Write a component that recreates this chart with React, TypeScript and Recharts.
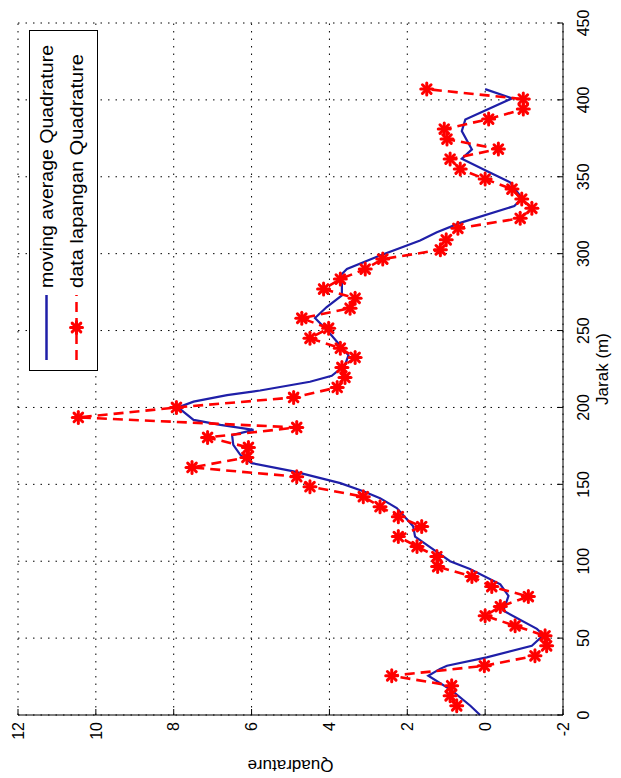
import React from 'react';
import { CartesianGrid, Line, LineChart, XAxis, YAxis } from 'recharts';

// data lapangan (field data)
const jarakLapangan = [6, 12.5, 19, 25.5, 32, 38.5, 45, 51.5, 58, 64.5, 70.5, 77, 83.5, 90, 96.5, 103, 109.5, 116, 122.5, 129, 135.5, 142, 148.5, 155, 161, 167.5, 174, 180.5, 187, 193.5, 200, 206.5, 213, 219.5, 226, 232.5, 238.5, 245, 251.5, 258, 264.5, 271, 277, 283.5, 290, 296.5, 302.5, 309, 316.5, 323, 329.5, 335.5, 342, 348.5, 355, 361.5, 368, 374.5, 381, 387.5, 394, 400.5, 407];
const quadLapangan = [0.73, 0.9, 0.86, 2.4, 0.02, -1.28, -1.58, -1.54, -0.77, 0.0, -0.39, -1.11, -0.17, 0.34, 1.22, 1.24, 1.75, 2.23, 1.63, 2.23, 2.7, 3.13, 4.5, 4.84, 7.53, 6.12, 6.08, 7.13, 4.84, 10.45, 7.93, 4.92, 3.8, 3.6, 3.68, 3.34, 3.72, 4.5, 4.02, 4.71, 3.47, 3.34, 4.15, 3.72, 3.08, 2.63, 1.15, 1.0, 0.7, -0.9, -1.2, -0.94, -0.69, 0.0, 0.64, 0.9, -0.34, 0.98, 1.05, -0.09, -0.98, -0.98, 1.5];

// moving average
const jarakMA = [0, 6, 16, 25.5, 30, 32, 37.5, 45, 52, 56, 67.8, 77.5, 85, 95, 100, 104.6, 116, 122.8, 134.6, 141, 145.5, 150.8, 158.4, 163.8, 169.2, 175.7, 182, 185.4, 188.7, 191.9, 200, 203.8, 208, 211, 216.7, 220.6, 227.5, 234, 249, 258.2, 265.3, 272.9, 280.4, 285.8, 290, 298.8, 308.5, 313.9, 320, 331, 336, 346.4, 353.8, 361.8, 367.8, 379.7, 387.2, 401, 407];
const quadMA = [0.13, 0.38, 0.86, 1.46, 1.16, 0.98, -0.04, -1.2, -1.5, -1.33, -0.47, -0.6, -0.39, 0.39, 0.9, 1.16, 1.8, 1.85, 2.27, 2.7, 3.13, 3.72, 4.92, 6.0, 6.29, 6.47, 6.5, 5.95, 6.8, 7.49, 7.89, 7.49, 6.63, 5.78, 4.5, 3.94, 3.6, 3.51, 4.02, 4.37, 4.07, 3.68, 3.68, 3.72, 3.55, 2.7, 1.67, 1.24, 0.64, -0.75, -0.95, -0.64, -0.04, 0.6, 0.34, 0.6, 0.51, -0.69, 0.0];

const jarakTicks = [0, 50, 100, 150, 200, 250, 300, 350, 400, 450];
const quadTicks = [-2, 0, 2, 4, 6, 8, 10, 12];

const BLUE = '#1f1fa8';
const RED = '#ff0000';

const Asterisk = (props: any) => {
  const { cx, cy, index } = props;
  if (cx == null || cy == null) return <g key={`m-${index}`} />;
  const r = 6;
  const d = r * 0.72;
  return (
    <g key={`m-${index}`} stroke={RED} strokeWidth={3} strokeLinecap="round">
      <line x1={cx - r} y1={cy} x2={cx + r} y2={cy} />
      <line x1={cx} y1={cy - r} x2={cx} y2={cy + r} />
      <line x1={cx - d} y1={cy - d} x2={cx + d} y2={cy + d} />
      <line x1={cx - d} y1={cy + d} x2={cx + d} y2={cy - d} />
    </g>
  );
};

export default function App() {
  const lapangan = jarakLapangan.map((jarak, i) => ({ jarak, q: quadLapangan[i] }));
  const movingAvg = jarakMA.map((jarak, i) => ({ jarak, q: quadMA[i] }));

  return (
    <div style={{ position: 'absolute', left: 0, top: 0, width: 621, height: 778, overflow: 'hidden', background: '#fff' }}>
      {/* the figure is drawn landscape, then turned a quarter turn like the source picture */}
      <div
        style={{
          position: 'absolute',
          left: 0,
          top: 0,
          width: 778,
          height: 621,
          transformOrigin: '0 0',
          transform: 'translate(0px, 778px) rotate(-90deg)',
          fontFamily: 'Arial, "Liberation Sans", sans-serif',
        }}
      >
        <LineChart width={778} height={621} margin={{ top: 18, right: 23, bottom: 0, left: 0 }}>
          <CartesianGrid stroke="#000" strokeDasharray="1.5 6" />
          <XAxis
            dataKey="jarak"
            type="number"
            domain={[0, 450]}
            ticks={jarakTicks}
            height={58}
            tickSize={-6}
            tickMargin={21}
            stroke="#000"
            tick={{ fill: '#000', fontSize: 16 }}
            label={{ value: 'Jarak (m)', position: 'insideBottom', offset: 13, fill: '#000', fontSize: 17 }}
          />
          <XAxis xAxisId="top" orientation="top" type="number" domain={[0, 450]} ticks={jarakTicks} height={0} tickSize={-6} stroke="#000" tick={false} />
          <YAxis
            type="number"
            domain={[-2, 12]}
            ticks={quadTicks}
            width={63}
            tickSize={-6}
            tickMargin={13}
            stroke="#000"
            tick={{ fill: '#000', fontSize: 16 }}
            label={{ value: 'Quadrature', angle: -90, position: 'insideLeft', offset: 12, fill: '#000', fontSize: 17, style: { textAnchor: 'middle' } }}
          />
          <YAxis yAxisId="right" orientation="right" type="number" domain={[-2, 12]} ticks={quadTicks} width={0} tickSize={-6} stroke="#000" tick={false} />
          <Line data={movingAvg} dataKey="q" type="linear" stroke={BLUE} strokeWidth={2.2} dot={false} activeDot={false} isAnimationActive={false} />
          <Line data={lapangan} dataKey="q" type="linear" stroke={RED} strokeWidth={2.6} strokeDasharray="10 6" dot={<Asterisk />} activeDot={false} isAnimationActive={false} />
        </LineChart>

        <svg width={341} height={69} style={{ position: 'absolute', left: 407, top: 29 }}>
          <rect x={0.5} y={0.5} width={340} height={68} fill="#fff" stroke="#000" />
          <line x1={11} y1={17.5} x2={76} y2={17.5} stroke={BLUE} strokeWidth={2.5} />
          <text x={83} y={23.5} fontSize={18} fill="#000" textLength={243} lengthAdjust="spacingAndGlyphs">moving average Quadrature</text>
          <line x1={11} y1={47.5} x2={76} y2={47.5} stroke={RED} strokeWidth={2.5} strokeDasharray="10 6" />
          <Asterisk cx={43.5} cy={47.5} index="legend" />
          <text x={83} y={53.5} fontSize={18} fill="#000" textLength={234} lengthAdjust="spacingAndGlyphs">data lapangan Quadrature</text>
        </svg>
      </div>
    </div>
  );
}
